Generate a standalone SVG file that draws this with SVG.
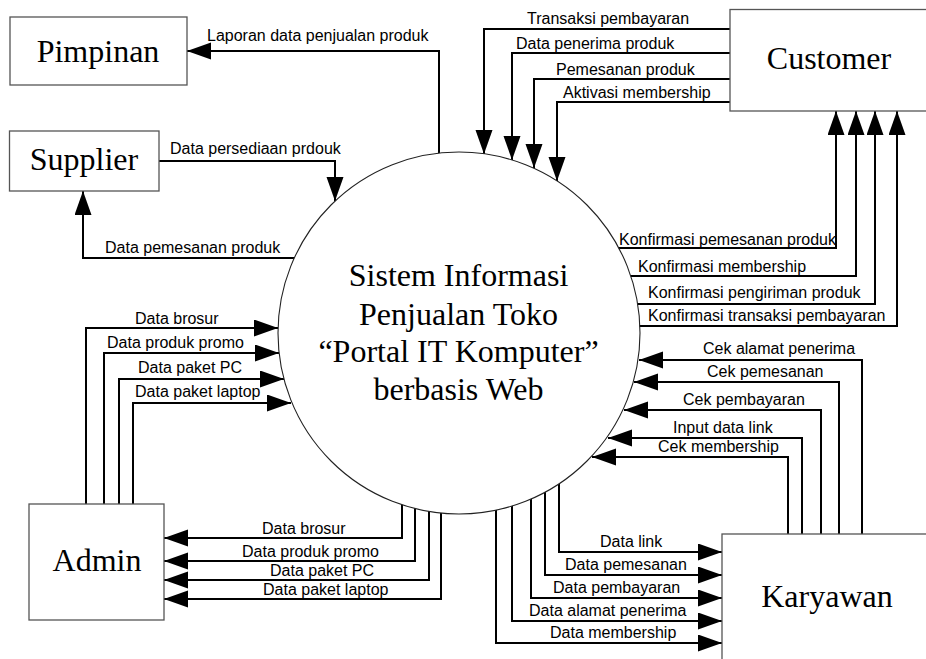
<svg xmlns="http://www.w3.org/2000/svg" width="926" height="659" viewBox="0 0 926 659">
<style>
.box{fill:#fff;stroke:#555;stroke-width:1.3}
.proc{fill:#fff;stroke:#222;stroke-width:1.1}
.big{font-family:"Liberation Serif","Times New Roman",serif;font-size:32px;fill:#000;text-anchor:middle}
.lbl{font-family:"Liberation Sans",Arial,sans-serif;font-size:16px;fill:#000}
.c{fill:none;stroke:#000;stroke-width:2;marker-end:url(#ah)}
</style>
<defs>
<marker id="ah" markerUnits="userSpaceOnUse" markerWidth="25" markerHeight="18" refX="24" refY="8.5" orient="auto">
<path d="M0,0 L24,8.5 L0,17 z" fill="#000"/>
</marker>
</defs>
<g id="connectors">
<path class="c" d="M439,160 V51 H187"/>
<path class="c" d="M159,161 H335 V201"/>
<path class="c" d="M300,258 H83 V191"/>
<path class="c" d="M730,29 H484 V154"/>
<path class="c" d="M730,53 H512 V160"/>
<path class="c" d="M730,79 H534 V168"/>
<path class="c" d="M730,102 H557 V181"/>
<path class="c" d="M612,248 H836 V111"/>
<path class="c" d="M625,276 H856 V111"/>
<path class="c" d="M632,304 H875 V111"/>
<path class="c" d="M634,326 H897 V111"/>
<path class="c" d="M86,504 V328 H278"/>
<path class="c" d="M104,504 V353 H279"/>
<path class="c" d="M119,504 V379 H284"/>
<path class="c" d="M133,504 V403 H291"/>
<path class="c" d="M402,498 V538 H164"/>
<path class="c" d="M415,502 V561 H164"/>
<path class="c" d="M429,505 V580 H164"/>
<path class="c" d="M441,507 V599 H164"/>
<path class="c" d="M559,478 V552 H722"/>
<path class="c" d="M545,486 V575 H722"/>
<path class="c" d="M531,493 V598 H722"/>
<path class="c" d="M512,500 V621 H722"/>
<path class="c" d="M496,504 V643 H722"/>
<path class="c" d="M862,534 V360 H639"/>
<path class="c" d="M839,534 V382 H634"/>
<path class="c" d="M821,534 V410 H624"/>
<path class="c" d="M802,534 V438 H608"/>
<path class="c" d="M788,534 V457 H592"/>
<text class="lbl" x="207" y="41">Laporan data penjualan produk</text>
<text class="lbl" x="170" y="154">Data persediaan prdouk</text>
<text class="lbl" x="105" y="253">Data pemesanan produk</text>
<text class="lbl" x="527" y="24">Transaksi pembayaran</text>
<text class="lbl" x="516" y="49">Data penerima produk</text>
<text class="lbl" x="556" y="75">Pemesanan produk</text>
<text class="lbl" x="563" y="98">Aktivasi membership</text>
<text class="lbl" x="619" y="245">Konfirmasi pemesanan produk</text>
<text class="lbl" x="638" y="272">Konfirmasi membership</text>
<text class="lbl" x="648" y="298">Konfirmasi pengiriman produk</text>
<text class="lbl" x="648" y="321">Konfirmasi transaksi pembayaran</text>
<text class="lbl" x="135" y="324">Data brosur</text>
<text class="lbl" x="107" y="348">Data produk promo</text>
<text class="lbl" x="138" y="373">Data paket PC</text>
<text class="lbl" x="135" y="397">Data paket laptop</text>
<text class="lbl" x="262" y="534">Data brosur</text>
<text class="lbl" x="242" y="557">Data produk promo</text>
<text class="lbl" x="270" y="576">Data paket PC</text>
<text class="lbl" x="263" y="595">Data paket laptop</text>
<text class="lbl" x="600" y="547">Data link</text>
<text class="lbl" x="565" y="570">Data pemesanan</text>
<text class="lbl" x="553" y="593">Data pembayaran</text>
<text class="lbl" x="529" y="616">Data alamat penerima</text>
<text class="lbl" x="550" y="638">Data membership</text>
<text class="lbl" x="703" y="354">Cek alamat penerima</text>
<text class="lbl" x="707" y="377">Cek pemesanan</text>
<text class="lbl" x="683" y="405">Cek pembayaran</text>
<text class="lbl" x="673" y="433">Input data link</text>
<text class="lbl" x="658" y="452">Cek membership</text>
</g>
<g id="system">
<circle class="proc" cx="459" cy="333" r="181"/>
<text class="big" x="458.5" y="286">Sistem Informasi</text>
<text class="big" x="458.5" y="325">Penjualan Toko</text>
<text class="big" x="458.5" y="362">“Portal IT Komputer”</text>
<text class="big" x="458.5" y="400">berbasis Web</text>
</g>
<g id="pimpinan">
<rect class="box" x="10" y="17" width="177" height="68"/>
<text class="big" x="98" y="62">Pimpinan</text>
</g>
<g id="supplier">
<rect class="box" x="9.5" y="131" width="149.5" height="60"/>
<text class="big" x="84" y="170">Supplier</text>
</g>
<g id="customer">
<rect class="box" x="730" y="9.5" width="210" height="101.5"/>
<text class="big" x="829" y="69">Customer</text>
</g>
<g id="admin">
<rect class="box" x="29" y="504" width="135" height="116"/>
<text class="big" x="97" y="571">Admin</text>
</g>
<g id="karyawan">
<rect class="box" x="722" y="534" width="220" height="140"/>
<text class="big" x="827" y="607">Karyawan</text>
</g>
</svg>
